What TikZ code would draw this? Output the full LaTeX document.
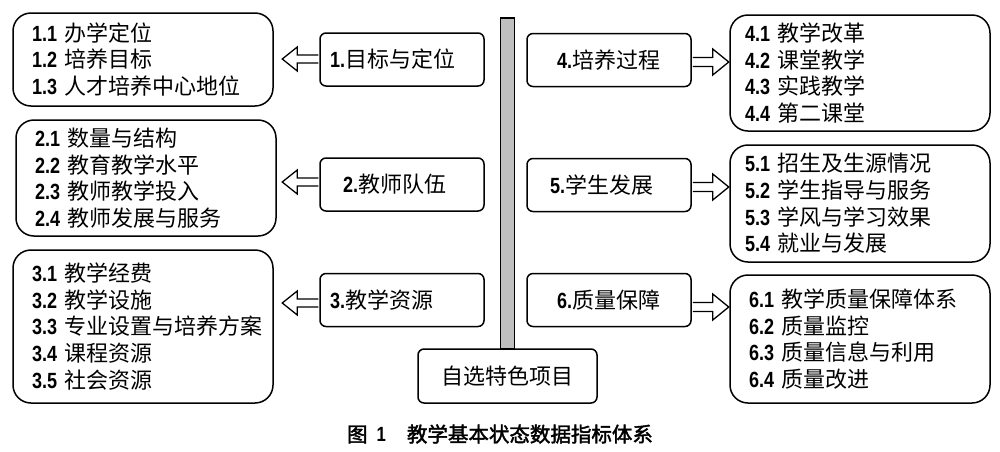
\documentclass[tikz,border=0pt]{standalone}
\usepackage{fontspec}
\setmainfont{Noto Sans CJK SC}
\newfontfamily\numf[FakeStretch=0.82]{Liberation Sans}
\newfontfamily\capf[FakeBold=2]{Noto Sans CJK SC}
\newcommand\nb[1]{{\numf\bfseries #1}}
\usetikzlibrary{calc}
\begin{document}
\begin{tikzpicture}[x=1pt,y=-1pt,
  bigbox/.style={draw, line width=1.5pt, rounded corners=18pt, minimum width=260pt,
    text width=222pt, align=left, inner sep=0pt, font=\fontsize{22}{26.6}\selectfont},
  midbox/.style={draw, line width=1.5pt, rounded corners=6pt, minimum width=164pt,
    minimum height=53pt, text width=144pt, align=left, inner sep=0pt, font=\fontsize{22}{26}\selectfont},
  blockarrow/.style={draw, line width=1.3pt, fill=white, line join=miter},
  barstyle/.style={draw, line width=1.5pt, fill=black!25, minimum width=14pt, minimum height=331pt, inner sep=0pt}]
\useasboundingbox (0,0) rectangle (1000,451);
\fill[white] (0,0) rectangle (1000,451);

% left detail boxes
\node[bigbox, minimum height=93pt] (b1) at (143,59.5)
  {\nb{1.1} 办学定位\\ \nb{1.2} 培养目标\\ \nb{1.3} 人才培养中心地位};
\node[bigbox, minimum height=116pt] (b2) at (146,178)
  {\nb{2.1} 数量与结构\\ \nb{2.2} 教育教学水平\\ \nb{2.3} 教师教学投入\\ \nb{2.4} 教师发展与服务};
\node[bigbox, minimum height=153pt] (b3) at (143,326.5)
  {\nb{3.1} 教学经费\\ \nb{3.2} 教学设施\\ \mbox{\nb{3.3} 专业设置与培养方案}\\ \nb{3.4} 课程资源\\ \nb{3.5} 社会资源};

% right detail boxes
\node[bigbox, minimum height=116pt] (b4) at (860,73)
  {\hspace*{-4pt}\nb{4.1} 教学改革\\ \hspace*{-4pt}\nb{4.2} 课堂教学\\ \hspace*{-4pt}\nb{4.3} 实践教学\\ \hspace*{-4pt}\nb{4.4} 第二课堂};
\node[bigbox, minimum height=117pt] (b5) at (860,203.5)
  {\hspace*{-4pt}\nb{5.1} 招生及生源情况\\ \hspace*{-4pt}\nb{5.2} 学生指导与服务\\ \hspace*{-4pt}\nb{5.3} 学风与学习效果\\ \hspace*{-4pt}\nb{5.4} 就业与发展};
\node[bigbox, minimum height=128pt] (b6) at (860,339)
  {\nb{6.1} 教学质量保障体系\\ \nb{6.2} 质量监控\\ \nb{6.3} 质量信息与利用\\ \nb{6.4} 质量改进};

% middle category boxes
\node[midbox] (m1) at (402,59.5) {\nb{1.}目标与定位};
\node[midbox] (m2) at (402,184.5) {\hspace*{13pt}\nb{2.}教师队伍};
\node[midbox] (m3) at (402,300) {\nb{3.}教学资源};
\node[midbox] (m4) at (609,60) {\hspace*{20pt}\nb{4.}培养过程};
\node[midbox] (m5) at (609,185) {\hspace*{13pt}\nb{5.}学生发展};
\node[midbox] (m6) at (609,300) {\hspace*{20pt}\nb{6.}质量保障};

% central bar and bottom box
\node[barstyle] (bar) at (507.5,183.5) {};
\node[draw, line width=1.5pt, rounded corners=6pt, minimum width=179pt, minimum height=54pt,
  inner sep=0pt, font=\fontsize{22}{26}\selectfont] (self) at (507.5,376) {自选特色项目};

% block arrows pointing left
\draw[blockarrow, shift={($(m1.west)+(-1,-0.5)$)}] (0,-4) -- (-21,-4) -- (-21,-12) -- (-36,0) -- (-21,12) -- (-21,4) -- (0,4);
\draw[blockarrow, shift={($(m2.west)+(-1,-2.5)$)}] (0,-4) -- (-21,-4) -- (-21,-12) -- (-36,0) -- (-21,12) -- (-21,4) -- (0,4);
\draw[blockarrow, shift={($(m3.west)+(-1,3)$)}] (0,-4) -- (-21,-4) -- (-21,-12) -- (-36,0) -- (-21,12) -- (-21,4) -- (0,4);
% block arrows pointing right
\draw[blockarrow, shift={($(m4.east)+(1,2)$)}] (0,-4.5) -- (20,-4.5) -- (20,-13) -- (36,0) -- (20,13) -- (20,4.5) -- (0,4.5);
\draw[blockarrow, shift={($(m5.east)+(1,2)$)}] (0,-4.5) -- (20,-4.5) -- (20,-13) -- (36,0) -- (20,13) -- (20,4.5) -- (0,4.5);
\draw[blockarrow, shift={($(m6.east)+(1,7)$)}] (0,-4.5) -- (20,-4.5) -- (20,-13) -- (36,0) -- (20,13) -- (20,4.5) -- (0,4.5);

% caption
\node[inner sep=0pt, font=\fontsize{20.5}{24}\selectfont] (cap) at (500,434)
  {{\capf 图}\hspace{9pt}{\numf\bfseries 1}\hspace{21pt}{\capf 教学基本状态数据指标体系}};
\end{tikzpicture}
\end{document}
